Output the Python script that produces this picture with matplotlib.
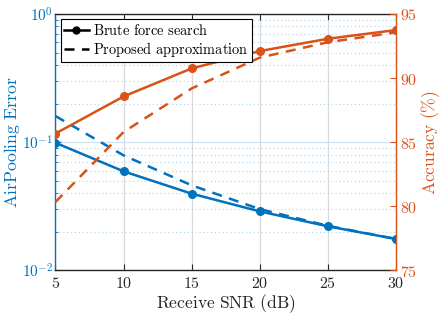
import matplotlib
matplotlib.use('Agg')
import matplotlib.pyplot as plt
from matplotlib.lines import Line2D
from matplotlib.ticker import LogLocator, NullFormatter, FixedLocator

plt.rcParams['mathtext.fontset'] = 'cm'
plt.rcParams['font.family'] = 'serif'
plt.rcParams['font.serif'] = ['DejaVu Serif']

# data
snr = [5, 10, 15, 20, 25, 30]
err_brute = [0.099, 0.0593, 0.0397, 0.0289, 0.0221, 0.0176]
err_approx = [0.160, 0.079, 0.0461, 0.0301, 0.0223, 0.0176]
acc_brute = [85.68, 88.57, 90.76, 92.11, 93.07, 93.75]
acc_approx = [80.34, 85.8, 89.2, 91.6, 92.8, 93.57]

blue = '#0072BD'
orange = '#D95319'
dark = '#262626'

fig = plt.figure(figsize=(4.45, 3.16), dpi=100)
ax = fig.add_axes([0.1247, 0.144, 0.7653, 0.8117])
ax2 = ax.twinx()

# left axis: error (log)
ax.plot(snr, err_brute, '-o', color=blue, lw=1.8, ms=5.5, zorder=3)
ax.plot(snr, err_approx, '--', color=blue, lw=1.8, dashes=(4, 3), zorder=3)
ax.set_yscale('log')
ax.set_ylim(1e-2, 1)
ax.set_xlim(5, 30)
ax.set_xticks(snr)
ax.set_xticklabels([r'$%d$' % s for s in snr], fontsize=11.5, color=dark)
ax.yaxis.set_major_locator(FixedLocator([1e-2, 1e-1, 1]))
ax.set_yticklabels([r'$10^{-2}$', r'$10^{-1}$', r'$10^{0}$'], fontsize=11)
ax.yaxis.set_minor_locator(LogLocator(base=10, subs=range(2, 10)))
ax.yaxis.set_minor_formatter(NullFormatter())
ax.tick_params(axis='y', which='both', direction='in', colors=blue, length=4, pad=2)
ax.tick_params(axis='y', which='minor', length=2.5)
ax.tick_params(axis='x', direction='in', top=True, colors=dark, length=4)
ax.set_xlabel(r'$\mathrm{Receive\ SNR\ (dB)}$', fontsize=12.6, color=dark, labelpad=0)
ax.set_ylabel(r'$\mathrm{AirPooling\ Error}$', fontsize=12.8, color=blue, labelpad=0)

ax.grid(axis='x', which='major', color='#d9d9d9', lw=0.9)
ax.grid(axis='y', which='major', color='#cfe3f2', lw=0.9)
ax.grid(axis='y', which='minor', color='#b3d2ea', lw=0.8, ls=(0, (1, 2.5)))

ax.spines['left'].set_color(blue)
ax.spines['top'].set_color(dark)
ax.spines['bottom'].set_color(dark)
ax.spines['right'].set_visible(False)
for s in ax.spines.values():
    s.set_linewidth(1.0)

# right axis: accuracy
ax2.plot(snr, acc_brute, '-o', color=orange, lw=1.8, ms=5.5, zorder=3)
ax2.plot(snr, acc_approx, '--', color=orange, lw=1.8, dashes=(4, 3), zorder=3)
ax2.set_ylim(75, 95)
ax2.set_yticks([75, 80, 85, 90, 95])
ax2.set_yticklabels([r'$%d$' % v for v in [75, 80, 85, 90, 95]], fontsize=11.5)
ax2.tick_params(axis='y', direction='in', colors=orange, length=4, pad=3)
ax2.set_ylabel(r'$\mathrm{Accuracy\ (\%)}$', fontsize=12.6, color=orange, labelpad=1)
ax2.spines['right'].set_color(orange)
ax2.spines['right'].set_linewidth(1.0)
for k in ['left', 'top', 'bottom']:
    ax2.spines[k].set_visible(False)

handles = [Line2D([], [], color='black', lw=1.8, marker='o', ms=5),
           Line2D([], [], color='black', lw=1.8, ls='--', dashes=(4, 3))]
leg = ax2.legend(handles, [r'$\mathrm{Brute\ force\ search}$', r'$\mathrm{Proposed\ approximation}$'],
                 loc='upper left', fontsize=10.4, frameon=True, fancybox=False,
                 borderaxespad=0.35, handlelength=1.7, handletextpad=0.3,
                 borderpad=0.25, labelspacing=0.15, framealpha=1)
leg.get_frame().set_edgecolor('black')
leg.get_frame().set_linewidth(0.8)

fig.savefig('out.png', dpi=100)
